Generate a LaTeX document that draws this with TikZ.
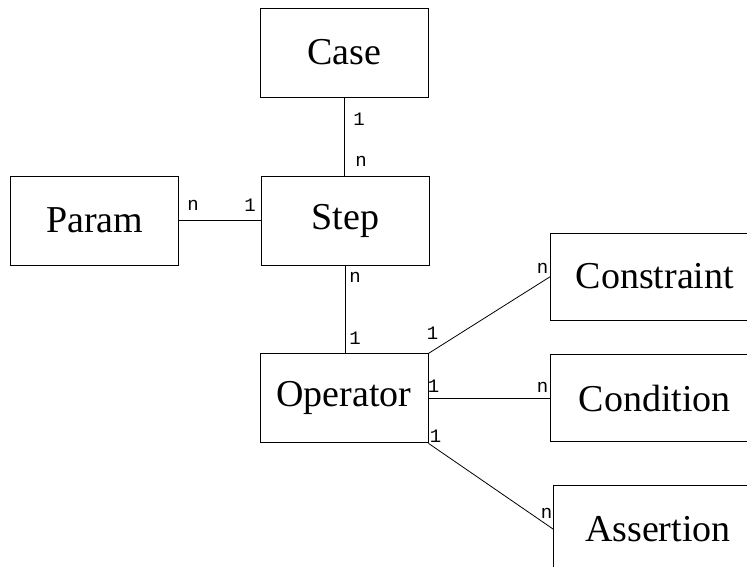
\documentclass[tikz,border=0pt]{standalone}
\usepackage{fontspec}
\setmainfont{Liberation Serif}
\newfontfamily\cardfont{Liberation Mono}
\usetikzlibrary{positioning}

\begin{document}
\begin{tikzpicture}[
		x=1pt, y=-1pt,
		entity/.style={rectangle, draw, line width=0.9pt, inner sep=0pt, minimum width=168pt, minimum height=89pt, font=\fontsize{38}{40}\selectfont},
		wide/.style={entity, minimum width=208pt, minimum height=87pt},
		card/.style={inner sep=0pt, font=\cardfont\fontsize{19}{20}\selectfont},
		link/.style={draw, line width=0.8pt}
	]

	\path[use as bounding box, clip] (0,0) rectangle (747,567);

	\node[entity] (step) at (345.5,220.5) {Step};
	\node[entity, above=78pt of step, xshift=-1.5pt] (case) {Case};
	\node[entity, left=82pt of step] (param) {Param};
	\node[entity, below=88pt of step, xshift=-1.5pt] (operator) {Operator};
	\node[wide, right=122pt of operator] (condition) {Condition};
	\node[wide, above=34pt of condition] (constraint) {Constraint};
	\node[wide, below=43pt of condition, xshift=3pt] (assertion) {Assertion};

	\draw[link] (case.south) -- (case.south |- step.north);
	\draw[link] (step.south) -- (step.south |- operator.north);

	\foreach \i/\j in {param/step, operator.north east/constraint.west, operator/condition, operator.south east/assertion.west}
		\draw[link] (\i) -- (\j);

	% cardinalities
	\node[card] (caseone) at ([shift={(15,22)}]case.south) {1};
	\node[card] (stepn1) at ([shift={(15.5,-14)}]step.north) {n};
	\node[card] (paramn) at ([shift={(14,-15.5)}]param.east) {n};
	\node[card] (stepone) at ([shift={(-11,-15.5)}]step.west) {1};
	\node[card] (stepn2) at ([shift={(9.5,12)}]step.south) {n};
	\node[card] (opone1) at ([shift={(11,-15)}]operator.north) {1};
	\node[card] (opone2) at ([shift={(4,-20)}]operator.north east) {1};
	\node[card] (constrn) at ([shift={(-8,-8)}]constraint.west) {n};
	\node[card] (opone3) at ([shift={(5,-12)}]operator.east) {1};
	\node[card] (condn) at ([shift={(-8,-11)}]condition.west) {n};
	\node[card] (opone4) at ([shift={(7,-7)}]operator.south east) {1};
	\node[card] (assertn) at ([shift={(-7,-16)}]assertion.west) {n};

\end{tikzpicture}
\end{document}
